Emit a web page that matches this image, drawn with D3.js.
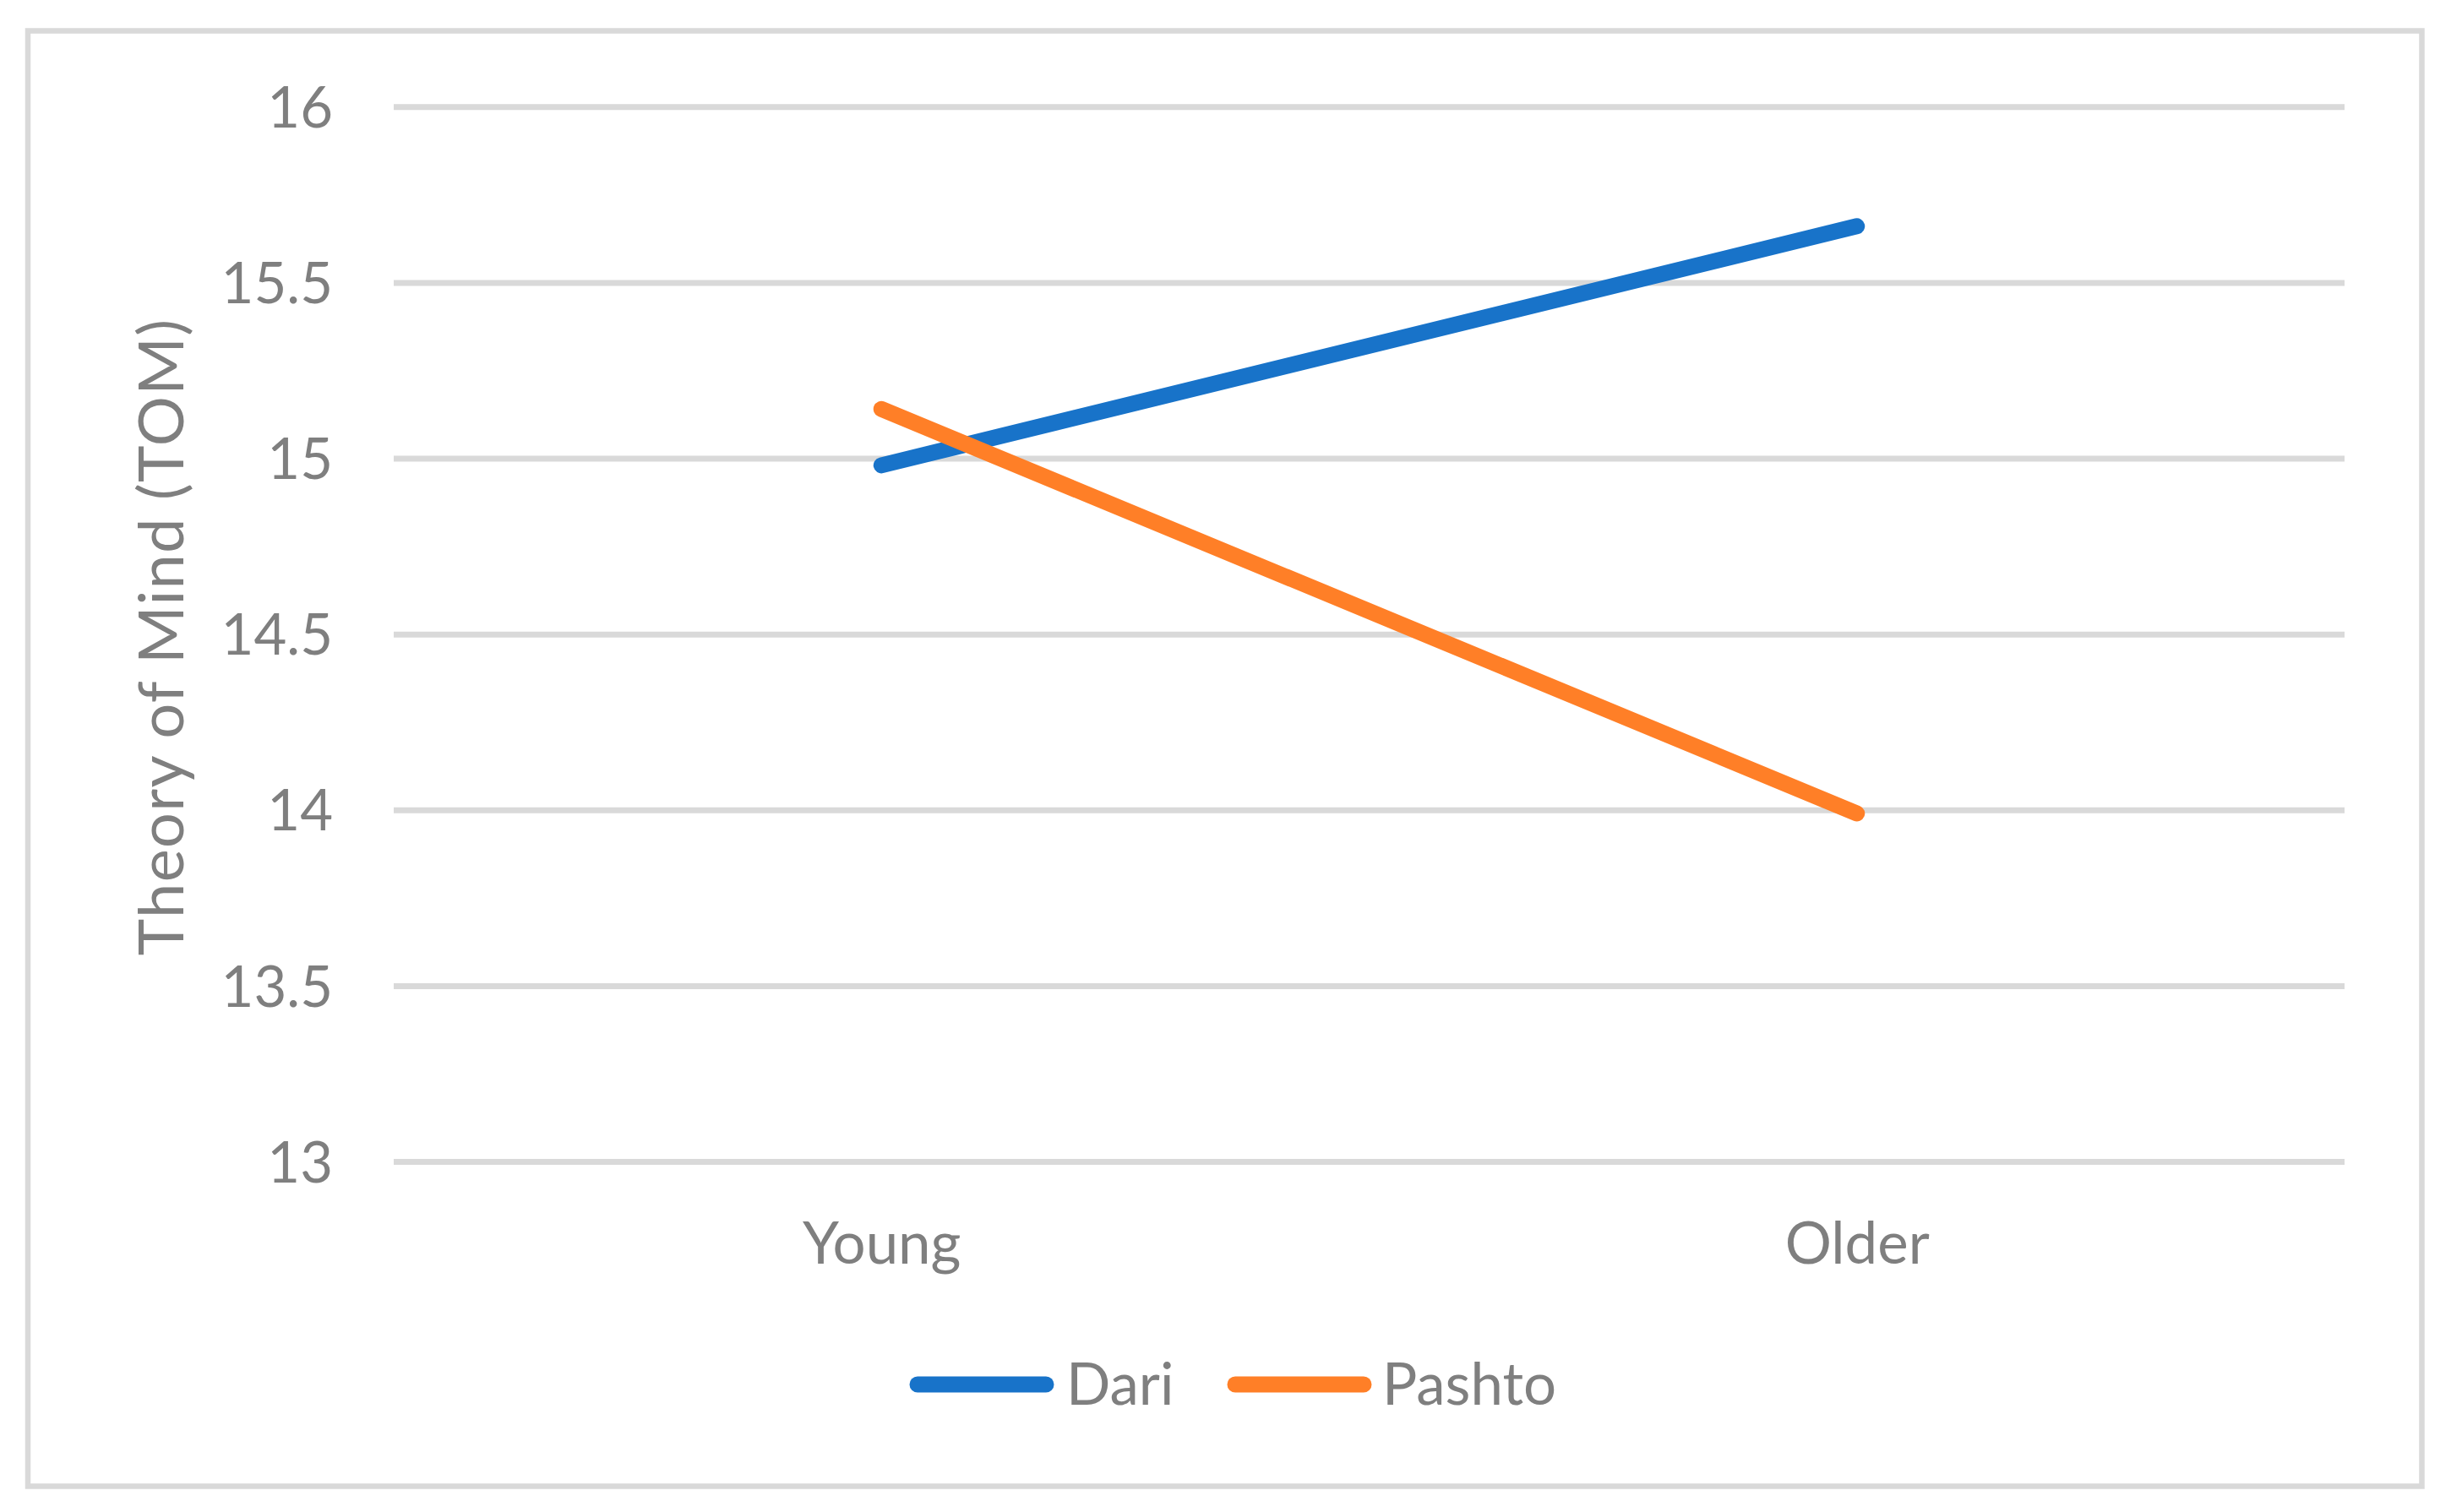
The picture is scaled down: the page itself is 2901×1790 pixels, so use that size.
<!DOCTYPE html>
<html>
<head>
<meta charset="utf-8">
<script src="https://cdn.jsdelivr.net/npm/d3@7"></script>
<style>
  html, body { margin: 0; padding: 0; background: #ffffff; }
  svg { display: block; }
</style>
</head>
<body>
<svg id="chart" width="2901" height="1790"></svg>
<script>
// ---- data ----
const categories = ["Young", "Older"];
const seriesNames = ["Dari", "Pashto"];
const dariValues = [14.98, 15.66];
const pashtoValues = [15.14, 13.99];
const yTicks = [13, 13.5, 14, 14.5, 15, 15.5, 16];
const yTitle = "Theory of Mind (TOM)";
const colors = ["#1873c9", "#ff7f27"];

const series = [
  { name: seriesNames[0], values: dariValues, color: colors[0] },
  { name: seriesNames[1], values: pashtoValues, color: colors[1] }
];

// ---- layout ----
const W = 2901, H = 1790;
const plot = { left: 466, right: 2775, top: 126.3, bottom: 1375 };
const font = "Lato, 'Open Sans', 'DejaVu Sans', sans-serif";
const textColor = "#7f7f7f";
const gridColor = "#d9d9d9";

const svg = d3.select("#chart");
svg.append("rect").attr("x", 0).attr("y", 0).attr("width", W).attr("height", H).attr("fill", "#fff");

// outer border
svg.append("rect")
  .attr("x", 33).attr("y", 36.5)
  .attr("width", 2866.5 - 33).attr("height", 1759.5 - 36.5)
  .attr("fill", "none").attr("stroke", gridColor).attr("stroke-width", 6.5);

const x = d3.scalePoint().domain(categories).range([plot.left, plot.right]).padding(0.5);
const y = d3.scaleLinear().domain([13, 16]).range([plot.bottom, plot.top]);

// y axis with gridlines
const yAxis = d3.axisLeft(y)
  .tickValues(yTicks)
  .tickFormat(d3.format("~g"))
  .tickSize(-(plot.right - plot.left))
  .tickPadding(72);

const gy = svg.append("g").attr("transform", `translate(${plot.left},0)`).call(yAxis);
gy.select(".domain").remove();
gy.selectAll(".tick line").attr("stroke", gridColor).attr("stroke-width", 7);
gy.selectAll(".tick text")
  .attr("fill", textColor)
  .attr("font-family", font)
  .attr("font-size", 67)
  .attr("dy", "0.36em");

// x axis labels
const xAxis = d3.axisBottom(x).tickSize(0).tickPadding(0);
const gx = svg.append("g").attr("transform", `translate(0,${plot.bottom})`).call(xAxis);
gx.select(".domain").remove();
gx.selectAll(".tick text")
  .attr("fill", textColor)
  .attr("font-family", font)
  .attr("font-size", 69)
  .attr("y", 121)
  .attr("dy", 0);

// y title
svg.append("text")
  .attr("transform", `translate(217,754) rotate(-90)`)
  .attr("text-anchor", "middle")
  .attr("fill", textColor)
  .attr("font-family", font)
  .attr("font-size", 74)
  .attr("letter-spacing", 1.3)
  .text(yTitle);

// lines
const line = d3.line()
  .x((d, i) => x(categories[i]))
  .y(d => y(d));

svg.append("g").selectAll("path")
  .data(series)
  .join("path")
  .attr("d", d => line(d.values))
  .attr("fill", "none")
  .attr("stroke", d => d.color)
  .attr("stroke-width", 19)
  .attr("stroke-linecap", "round")
  .attr("stroke-linejoin", "round");

// legend
const legendItems = [
  { x0: 1091, x1: 1236, tx: 1262 },
  { x0: 1467, x1: 1612, tx: 1636 }
];
const legendY = 1639;
const lg = svg.append("g");
series.forEach((s, i) => {
  const it = legendItems[i];
  lg.append("line")
    .attr("x1", it.x0 - 5).attr("x2", it.x1 + 2)
    .attr("y1", legendY).attr("y2", legendY)
    .attr("stroke", s.color).attr("stroke-width", 19)
    .attr("stroke-linecap", "round");
  lg.append("text")
    .attr("x", it.tx).attr("y", 1663)
    .attr("fill", textColor)
    .attr("font-family", font)
    .attr("font-size", 69)
    .text(s.name);
});
</script>
</body>
</html>
